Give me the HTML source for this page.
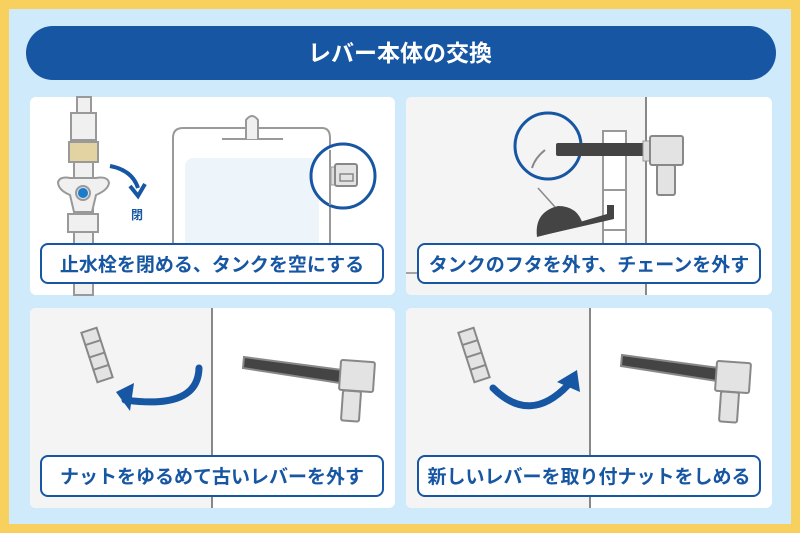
<!DOCTYPE html>
<html><head><meta charset="utf-8"><style>
html,body{margin:0;padding:0;background:#f7d05e;}
svg{display:block}
text{font-family:"Liberation Sans","Noto Sans CJK JP",sans-serif;font-weight:bold;}
</style></head><body>
<svg width="800" height="533" viewBox="0 0 800 533" xmlns="http://www.w3.org/2000/svg">
<rect x="0" y="0" width="800" height="533" fill="#f7d05e"/>
<rect x="9" y="9" width="782" height="515" fill="#cfeafa"/>
<rect x="26" y="26" width="750" height="54" rx="27" fill="#1656a3"/>
<text x="400" y="61" font-size="23" fill="#fff" text-anchor="middle">レバー本体の交換</text>

<!-- Panel 1 -->
<rect x="30" y="97" width="365" height="198" rx="6" fill="#fff"/>
<g stroke="#999" stroke-width="2" fill="#f0f0f0">
<rect x="77" y="97" width="14" height="18"/>
<rect x="74" y="160" width="19" height="135"/>
<rect x="71" y="113" width="25" height="27"/>
<rect x="69" y="142" width="29" height="20" fill="#e3d3a3"/>
<path d="M58 182 Q60 176 70 178 L96 178 Q108 176 109 183 Q108 190 96 195 L92 212 L74 212 L70 195 Q58 190 58 182Z"/>
<rect x="68" y="214" width="30" height="18"/>
</g>
<circle cx="83" cy="193" r="7" fill="#ddd" stroke="#999" stroke-width="2"/>
<circle cx="83" cy="193" r="5" fill="#1a7ccc"/>
<path d="M110 166 Q132 170 138 188" stroke="#1656a3" stroke-width="4" fill="none"/>
<path d="M130 186 L138 196 L145 184" stroke="#1656a3" stroke-width="4" fill="none"/>
<text x="137" y="219" font-size="12" fill="#1656a3" text-anchor="middle">閉</text>
<path d="M173 243 L173 138 Q173 128 183 128 L322 128 Q330 128 330 138 L330 243" stroke="#999" stroke-width="2" fill="#fff"/>
<rect x="185" y="158" width="134" height="90" rx="8" fill="#eef5fa"/>
<line x1="222" y1="139" x2="283" y2="139" stroke="#999" stroke-width="2"/>
<path d="M246 139 L246 120 Q252 112 258 120 L258 139" stroke="#999" stroke-width="2" fill="#f0f0f0"/>
<circle cx="343" cy="176" r="32" fill="#fff" stroke="#1656a3" stroke-width="3"/>
<line x1="330" y1="150" x2="330" y2="205" stroke="#999" stroke-width="2"/>
<rect x="331" y="167" width="5" height="18" fill="#ddd" stroke="#999"/>
<rect x="335" y="164" width="22" height="22" rx="2" fill="#e3e3e3" stroke="#888" stroke-width="2"/>
<rect x="340" y="174" width="13" height="7" fill="none" stroke="#888" stroke-width="1.5"/>
<rect x="41" y="244" width="342" height="39" rx="7" fill="#fff" stroke="#1656a3" stroke-width="2"/>
<text x="212" y="271" font-size="19" fill="#1656a3" text-anchor="middle">止水栓を閉める、タンクを空にする</text>

<!-- Panel 2 -->
<rect x="406" y="97" width="366" height="198" rx="6" fill="#fff"/>
<path d="M412 97 L646 97 L646 295 L412 295 Q406 295 406 289 L406 103 Q406 97 412 97Z" fill="#f4f4f4"/>
<line x1="646" y1="97" x2="646" y2="295" stroke="#888" stroke-width="2"/>
<line x1="406" y1="273" x2="420" y2="273" stroke="#888" stroke-width="1.5"/>
<rect x="603" y="131" width="23" height="140" fill="#fff" stroke="#999" stroke-width="2"/>
<line x1="603" y1="190" x2="626" y2="190" stroke="#999" stroke-width="2"/>
<line x1="603" y1="230" x2="626" y2="230" stroke="#999" stroke-width="2"/>
<line x1="538" y1="188" x2="555" y2="207" stroke="#888" stroke-width="1.5"/>
<path d="M537 237 Q534 212 558 206 Q578 206 583 225 Z" fill="#444"/>
<path d="M540 236 L614 219 L614 205 L607 205 L607 214 L573 224" fill="#444"/>
<circle cx="548" cy="146" r="33" fill="#f4f4f4" stroke="#1656a3" stroke-width="3"/>
<rect x="556" y="143" width="90" height="13" rx="2" fill="#444"/>
<rect x="643" y="141" width="8" height="20" fill="#ddd" stroke="#999"/>
<rect x="650" y="136" width="33" height="29" rx="2" fill="#e3e3e3" stroke="#888" stroke-width="2"/>
<rect x="657" y="165" width="18" height="30" rx="2" fill="#e3e3e3" stroke="#888" stroke-width="2"/>
<path d="M545 150 Q535 158 532 168" stroke="#888" stroke-width="2" fill="none"/>
<rect x="418" y="244" width="342" height="39" rx="7" fill="#fff" stroke="#1656a3" stroke-width="2"/>
<text x="589" y="271" font-size="19" fill="#1656a3" text-anchor="middle">タンクのフタを外す、チェーンを外す</text>

<!-- Panel 3 -->
<rect x="30" y="308" width="365" height="200" rx="6" fill="#fff"/>
<path d="M36 308 L212 308 L212 508 L36 508 Q30 508 30 502 L30 314 Q30 308 36 308Z" fill="#f4f4f4"/>
<line x1="212" y1="308" x2="212" y2="508" stroke="#888" stroke-width="2"/>
<g transform="translate(97,355) rotate(-18)" stroke="#888" stroke-width="2" fill="#e3e3e3">
<rect x="-8" y="-26" width="16" height="52"/>
<line x1="-8" y1="-13" x2="8" y2="-13"/><line x1="-8" y1="0" x2="8" y2="0"/><line x1="-8" y1="13" x2="8" y2="13"/>
</g>
<path d="M199 368 Q198 410 125 400" stroke="#1656a3" stroke-width="7" fill="none" stroke-linecap="round"/>
<path d="M116 392 L134 383 L130 411 Z" fill="#1656a3"/>
<path d="M244 357 L342 370 L340 383 L243 368Z" fill="#444" stroke="#888" stroke-width="2"/>
<rect x="340" y="361" width="34" height="30" rx="2" fill="#e3e3e3" stroke="#888" stroke-width="2" transform="rotate(4 357 376)"/>
<rect x="342" y="391" width="18" height="30" rx="2" fill="#e3e3e3" stroke="#888" stroke-width="2" transform="rotate(4 351 406)"/>
<rect x="41" y="456" width="342" height="40" rx="7" fill="#fff" stroke="#1656a3" stroke-width="2"/>
<text x="212" y="483" font-size="19" fill="#1656a3" text-anchor="middle">ナットをゆるめて古いレバーを外す</text>

<!-- Panel 4 -->
<rect x="406" y="308" width="366" height="200" rx="6" fill="#fff"/>
<path d="M412 308 L590 308 L590 508 L412 508 Q406 508 406 502 L406 314 Q406 308 412 308Z" fill="#f4f4f4"/>
<line x1="590" y1="308" x2="590" y2="508" stroke="#888" stroke-width="2"/>
<g transform="translate(474,355) rotate(-18)" stroke="#888" stroke-width="2" fill="#e3e3e3">
<rect x="-8" y="-26" width="16" height="52"/>
<line x1="-8" y1="-13" x2="8" y2="-13"/><line x1="-8" y1="0" x2="8" y2="0"/><line x1="-8" y1="13" x2="8" y2="13"/>
</g>
<path d="M493 388 Q530 425 568 385" stroke="#1656a3" stroke-width="7" fill="none" stroke-linecap="round"/>
<path d="M577 370 L557 382 L580 392 Z" fill="#1656a3"/>
<path d="M622 355 L719 368 L717 381 L621 366Z" fill="#444" stroke="#888" stroke-width="2"/>
<rect x="716" y="362" width="34" height="30" rx="2" fill="#e3e3e3" stroke="#888" stroke-width="2" transform="rotate(4 733 377)"/>
<rect x="720" y="392" width="18" height="30" rx="2" fill="#e3e3e3" stroke="#888" stroke-width="2" transform="rotate(4 729 407)"/>
<rect x="418" y="456" width="342" height="40" rx="7" fill="#fff" stroke="#1656a3" stroke-width="2"/>
<text x="589" y="483" font-size="19" fill="#1656a3" text-anchor="middle">新しいレバーを取り付ナットをしめる</text>
</svg>
</body></html>
